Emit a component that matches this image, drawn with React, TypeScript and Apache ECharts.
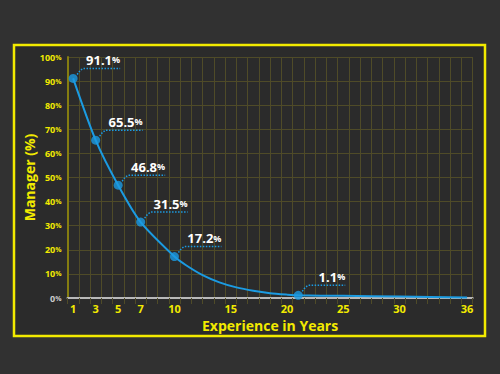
import React, { useEffect, useRef } from "react";
import * as echarts from "echarts";

const pointYears = [1, 3, 5, 7, 10, 21];
const pointPct = [91.1, 65.5, 46.8, 31.5, 17.2, 1.1];
const curveYears = [1, 3, 5, 7, 10, 11, 12.5, 14, 15.5, 17, 18.5, 20, 21, 25, 30, 36];
const curvePct = [91.1, 65.5, 46.8, 31.5, 17.2, 13.7, 9.5, 6.5, 4.4, 3.0, 2.0, 1.4, 1.1, 0.9, 0.6, 0.2];
const xTickLabels = [1, 3, 5, 7, 10, 15, 20, 25, 30, 36];
const xName = "Experience in Years";
const yName = "Manager (%)";

const BLUE = "#1b9be2";
const YELLOW = "#f2ea00";
const GRID = "#4f4b28";
const FONT = "'Open Sans', 'Noto Sans', sans-serif";

export default function App() {
  const ref = useRef<HTMLDivElement>(null);
  useEffect(() => {
    document.body.style.margin = "0";
    const chart = echarts.init(ref.current!, null, { renderer: "svg" });
    const pts = pointYears.map((x, i) => [x, pointPct[i]]);
    chart.setOption({
      animation: false,
      backgroundColor: "#313131",
      textStyle: { fontFamily: FONT },
      graphic: [
        {
          type: "rect",
          z: -10,
          shape: { x: 14, y: 45, width: 471, height: 291 },
          style: { fill: "#2b2b2b", stroke: YELLOW, lineWidth: 2.5 },
          silent: true,
        },
      ],
      grid: { left: 67.5, right: 27.3, top: 57, bottom: 76, containLabel: false },
      xAxis: {
        type: "value",
        min: 0.5,
        max: 36.5,
        interval: 1,
        name: xName,
        nameLocation: "middle",
        nameGap: 20,
        nameMoveOverlap: false,
        nameTextStyle: { color: YELLOW, fontSize: 14, lineHeight: 14, fontWeight: "bold", fontFamily: FONT },
        axisLine: { show: true, lineStyle: { color: "#b8b8b8", width: 2 } },
        axisTick: { show: true, length: 6, lineStyle: { color: GRID, width: 1 } },
        splitLine: { show: true, lineStyle: { color: GRID, width: 1 } },
        axisLabel: {
          customValues: xTickLabels,
          color: YELLOW,
          fontSize: 11,
          lineHeight: 11,
          fontWeight: "bold",
          fontFamily: FONT,
          margin: 5,
        },
      },
      yAxis: {
        type: "value",
        min: 0,
        max: 100,
        interval: 10,
        name: yName,
        nameLocation: "middle",
        nameGap: 31,
        nameMoveOverlap: false,
        nameTextStyle: { color: YELLOW, fontSize: 14, fontWeight: "bold", fontFamily: FONT },
        axisLine: { show: true, lineStyle: { color: "#857d10", width: 2 } },
        axisTick: { show: false },
        splitLine: { show: true, lineStyle: { color: GRID, width: 1 } },
        axisLabel: {
          margin: 6,
          formatter: (v: number) => (v === 0 ? `{z|${v}}{zp|%}` : `{v|${v}}{p|%}`),
          rich: {
            v: { color: YELLOW, fontSize: 9, fontWeight: "bold", fontFamily: FONT },
            p: { color: YELLOW, fontSize: 7, fontWeight: "bold", fontFamily: FONT },
            z: { color: "#cccccc", fontSize: 9, fontWeight: "bold", fontFamily: FONT },
            zp: { color: "#cccccc", fontSize: 7, fontWeight: "bold", fontFamily: FONT },
          },
        },
      },
      series: [
        {
          type: "line",
          data: curveYears.map((x, i) => [x, curvePct[i]]),
          smooth: 0.25,
          symbol: "none",
          lineStyle: { color: BLUE, width: 2 },
          z: 3,
        },
        {
          type: "scatter",
          data: pts,
          symbol: "circle",
          symbolSize: 9,
          itemStyle: { color: BLUE },
          z: 4,
        },
        {
          type: "custom",
          data: pts,
          z: 5,
          renderItem: (_params: any, api: any) => {
            const x = api.value(0);
            const y = api.value(1);
            const p = api.coord([x, y]);
            const endX = p[0] + 47;
            const lineY = p[1] - 10;
            return {
              type: "group",
              children: [
                {
                  type: "polyline",
                  shape: {
                    points: [
                      [p[0] + 4, p[1] - 4],
                      [p[0] + 7, p[1] - 8],
                      [p[0] + 10, lineY],
                      [endX, lineY],
                    ],
                  },
                  style: { stroke: BLUE, lineWidth: 1.5, lineDash: [1.5, 1.5], fill: null },
                },
                {
                  type: "text",
                  x: endX,
                  y: lineY - 2,
                  style: {
                    text: `{v|${y.toFixed(1)}}{p|%}`,
                    align: "right",
                    verticalAlign: "bottom",
                    rich: {
                      v: { fill: "#ffffff", fontSize: 13, fontWeight: "bold", fontFamily: FONT },
                      p: { fill: "#ffffff", fontSize: 9, fontWeight: "bold", fontFamily: FONT },
                    },
                  },
                },
              ],
            };
          },
        },
      ],
    });
    return () => chart.dispose();
  }, []);
  return <div ref={ref} style={{ width: 500, height: 374 }} />;
}
